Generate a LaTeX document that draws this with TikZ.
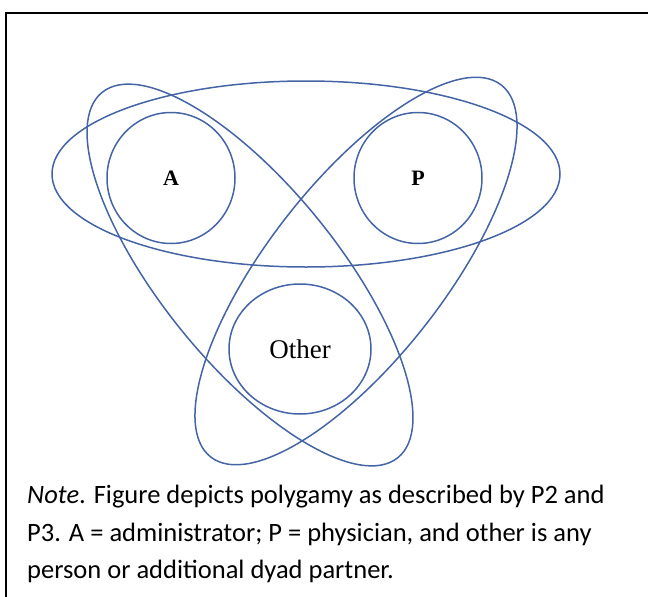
\documentclass[tikz,border=0pt]{standalone}
\usepackage{fontspec}
\setmainfont{Liberation Serif}
\newfontfamily\notefont{Carlito}
\usetikzlibrary{shapes.geometric}
\definecolor{venn}{RGB}{68,100,166}
\tikzset{
  vline/.style={draw=venn, line width=1.5pt},
  member/.style={vline, ellipse, inner sep=0pt, font=\bfseries\fontsize{22}{26}\selectfont},
  noteline/.style={anchor=base west, inner sep=0pt, font=\notefont\fontsize{26.5}{30}\selectfont}
}
\begin{document}
\begin{tikzpicture}[x=1pt,y=1pt]
\useasboundingbox (0,0) rectangle (648,-597);
% frame
\coordinate (fbl) at (6,-597);
\coordinate (ftr) at (648,-13);
\draw[line width=1.2pt] (fbl) |- (ftr);
% large ellipses
\draw[vline] (306,-174) ellipse [x radius=254, y radius=93];
\draw[vline, rotate around={-51:(250,-275)}] (250,-275) ellipse [x radius=235, y radius=88];
\draw[vline, rotate around={52:(356,-271)}] (356,-271) ellipse [x radius=236, y radius=88];
% members
\node[member, minimum width=128pt, minimum height=131pt] (A) at (171,-178) {A};
\node[member, minimum width=128pt, minimum height=131pt] (P) at (418,-178) {P};
\node[member, minimum width=142pt, minimum height=130pt, font=\fontsize{27}{31}\selectfont] (O) at (300,-349) {Other};
% note
\node[noteline] (n1) at (27,-503) {\textit{Note}. Figure depicts polygamy as described by P2 and};
\node[noteline] (n2) at (27,-541) {P3. A = administrator; P = physician, and other is any};
\node[noteline] (n3) at (27,-578) {person or additional dyad partner.};
\end{tikzpicture}
\end{document}
